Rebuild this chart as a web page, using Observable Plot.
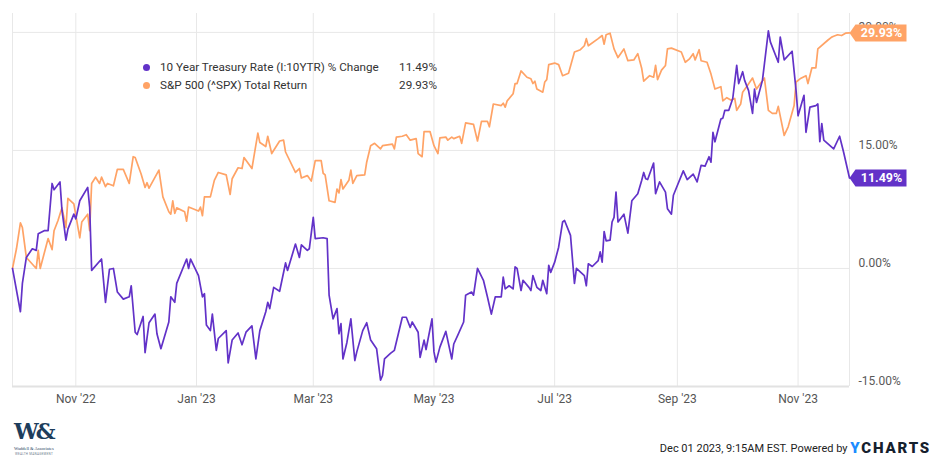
<!DOCTYPE html>
<html>
<head>
<meta charset="utf-8">
<script src="https://cdn.jsdelivr.net/npm/d3@7"></script>
<script src="https://cdn.jsdelivr.net/npm/@observablehq/plot@0.6"></script>
<style>
  html, body { margin: 0; padding: 0; background: #fff; }
  body { width: 936px; height: 460px; overflow: hidden; font-family: Roboto, "Noto Sans", sans-serif; }
  #wrap { position: relative; width: 936px; height: 412px; }
  #legend { position: absolute; left: 143px; top: 58px; font-size: 11.7px; color: #333; }
  #legend .row { position: relative; height: 18px; line-height: 18px; width: 294px; }
  #legend .dot { position: absolute; left: 0; top: 5.5px; width: 7px; height: 7px; border-radius: 50%; }
  #legend .name { position: absolute; left: 17px; }
  #legend .val { position: absolute; right: 0; }
  #footer { position: relative; width: 936px; height: 48px; }
  #logo { position: absolute; left: 14px; top: 8px; width: 44px; height: 40px; color: #1d3d5c; }
  #logo .w { position: absolute; left: 0; top: -2px; font-family: "DejaVu Serif", "Liberation Serif", serif; font-size: 22px; font-weight: bold; letter-spacing: -3px; white-space: nowrap; }
  #logo .l1 { position: absolute; left: 0; top: 26px; font-size: 4.5px; white-space: nowrap; font-family: "Liberation Serif", serif; }
  #logo .l2 { position: absolute; left: 1px; top: 32px; font-size: 3px; white-space: nowrap; color: #6b7c8c; letter-spacing: 0.3px; }
  #credit { position: absolute; right: 5px; top: 27px; font-size: 11px; color: #222; white-space: nowrap; }
  #credit .yc { font-weight: 900; font-size: 15px; letter-spacing: 1.8px; color: #15202d; vertical-align: -1px; }
  #credit .y { color: #1b8cff; }
</style>
</head>
<body>
<div id="wrap">
  <div id="chart"></div>
  <div id="legend"></div>
</div>
<div id="footer">
  <div id="logo"><span class="w">W&amp;</span><span class="l1">Waddell &amp; Associates</span><span class="l2">WEALTH MANAGEMENT</span></div>
  <div id="credit">Dec 01 2023, 9:15AM EST. Powered by <span class="yc"><span class="y">Y</span>CHARTS</span></div>
</div>
<script>
// Day offsets counted from 2022-09-30 (chart start)
const treasuryDays = [0,4,5,7,10,12,13,16,18,20,21,24,25,27,28,31,32,34,38,39,40,45,47,49,51,53,56,59,60,62,63,66,67,69,72,73,75,79,80,82,83,88,89,90,94,96,97,98,100,101,103,104,108,109,111,114,116,118,121,123,125,128,129,130,132,135,138,139,143,145,146,149,150,152,153,157,159,160,162,164,165,166,167,169,171,173,174,177,179,181,184,186,187,188,191,193,195,197,199,201,202,205,206,208,209,212,213,214,216,219,222,223,225,228,229,232,233,235,238,240,242,244,247,248,249,251,253,254,255,257,258,261,262,263,265,267,268,270,271,272,274,276,278,279,282,284,285,289,290,291,293,296,297,298,299,300,302,303,304,305,306,309,311,313,316,318,319,320,321,324,325,327,330,331,333,334,339,341,344,346,348,350,352,353,354,355,358,359,360,362,364,366,367,369,370,372,374,375,376,379,382,383,387,388,390,394,396,397,400,401,403,406,407,408,409,410,415,418,420,423];
const treasuryChange = [0.0,-5.5,-1.9,1.4,2.5,2.3,4.4,4.8,4.8,10.8,10.0,11.0,7.4,3.6,5.0,6.9,6.3,8.6,10.3,7.8,-0.25,1.2,-4.3,-0.1,0.0,-3.0,-3.9,-3.6,-2.2,-8.1,-8.4,-6.1,-10.7,-6.9,-5.8,-8.3,-10.2,-6.8,-3.6,-4.3,-1.9,1.2,0.0,1.2,-0.9,-3.6,-3.2,-7.2,-7.9,-5.8,-10.4,-8.9,-7.9,-12.0,-9.1,-8.2,-9.7,-8.1,-7.3,-11.5,-7.9,-5.5,-4.3,-5.1,-2.4,-2.9,0.7,-0.25,3.1,1.4,3.0,2.3,2.5,6.5,3.8,3.9,3.8,-3.4,-6.4,-5.1,-8.3,-7.0,-11.5,-9.4,-6.4,-11.7,-10.6,-7.9,-6.9,-9.1,-10.2,-14.2,-13.6,-11.5,-10.8,-10.4,-8.3,-6.2,-6.2,-7.5,-6.8,-8.1,-11.3,-9.1,-10.3,-6.4,-10.6,-11.9,-10.0,-8.0,-11.5,-9.6,-8.5,-6.8,-3.4,-3.0,-3.4,0.0,-1.5,-3.6,-5.8,-3.6,-3.6,-1.1,-2.6,-2.2,-2.6,0.2,0.0,-2.8,-1.5,-2.4,-2.8,-0.9,-2.4,-2.8,-1.5,-3.2,0.4,-0.5,0.8,2.7,5.9,6.1,4.2,-1.9,0.0,-0.9,-2.2,0.6,0.25,1.0,2.1,0.8,4.7,3.5,3.6,5.9,6.5,9.7,5.9,6.9,4.5,8.6,9.5,11.2,12.2,11.4,11.3,13.4,9.5,11.0,9.7,7.6,6.9,9.3,12.4,11.3,12.0,11.0,13.1,13.0,14.2,13.5,17.3,16.1,19.0,19.1,20.1,20.1,21.6,25.8,23.5,25.0,23.9,22.6,19.7,22.8,21.1,23.9,30.2,28.8,26.2,29.4,26.5,27.6,22.6,19.4,22.0,17.3,20.5,20.7,20.9,16.1,18.4,16.3,15.2,16.8,14.8,11.49];

const spxDays = [0,2,4,5,7,12,13,14,18,20,21,23,25,27,28,31,34,35,38,39,40,42,44,45,47,48,51,53,56,59,61,62,65,67,68,69,74,76,79,80,81,82,83,87,88,89,94,95,96,97,100,102,104,108,110,111,114,116,117,121,124,125,128,129,131,135,137,138,143,145,146,149,151,153,156,157,158,160,163,164,165,166,167,170,171,172,174,178,179,181,183,186,187,192,193,194,197,199,201,204,205,207,208,211,213,215,216,219,220,222,223,226,227,229,233,235,237,240,241,243,247,248,249,250,253,254,255,257,260,262,263,264,265,268,269,270,271,274,276,278,281,284,287,289,290,291,296,298,299,300,302,304,306,309,311,314,316,318,319,322,324,325,326,328,330,331,333,338,340,342,344,345,347,348,351,353,355,358,359,361,363,365,366,368,369,371,374,376,380,382,384,386,387,390,392,395,396,398,401,402,404,406,407,412,414,415,417,419,421,423];
const spxReturn = [0.0,2.5,5.8,5.2,1.4,0.0,2.3,0.0,3.8,2.4,4.8,6.1,7.7,5.2,8.9,8.2,3.9,5.9,6.9,4.8,10.8,11.6,10.8,11.6,10.4,10.8,10.5,12.6,12.6,10.8,14.2,14.1,12.0,10.3,10.9,10.2,12.5,9.1,7.2,6.9,8.6,7.0,7.7,7.2,6.0,7.8,7.3,7.8,6.7,9.1,9.1,11.2,12.2,11.9,9.4,11.4,12.8,12.7,14.1,12.7,17.2,16.0,15.5,16.8,14.6,16.2,16.3,14.8,12.2,12.7,11.5,11.8,11.1,13.7,13.7,12.1,11.9,8.6,8.4,10.1,9.6,11.3,10.1,11.2,12.5,10.8,11.8,11.9,13.5,15.6,15.9,15.2,15.6,15.8,15.2,16.7,16.8,17.0,16.3,16.5,14.6,14.2,17.4,17.4,15.6,14.6,16.6,16.7,16.3,16.7,16.5,16.8,15.9,18.5,18.3,16.2,18.7,18.7,18.0,20.9,20.7,21.0,20.5,21.3,22.2,23.5,23.5,25.1,24.3,24.1,23.5,23.8,22.8,22.4,23.7,24.0,25.9,26.1,25.9,24.5,24.8,27.5,27.8,28.3,29.2,28.3,29.2,29.6,28.5,29.7,29.9,27.9,26.8,27.9,26.4,26.5,27.3,25.4,23.8,24.5,24.3,25.8,24.0,25.2,25.8,27.9,28.0,27.5,26.2,26.6,27.3,26.5,27.8,26.4,26.2,24.7,22.8,23.1,21.3,21.7,21.4,21.6,20.1,20.9,22.4,23.1,24.2,22.8,24.2,20.1,19.7,19.7,20.6,16.9,18.0,20.7,23.7,24.1,24.5,23.5,25.5,25.5,27.9,29.0,29.4,29.5,29.7,29.6,29.9,29.93];

const seriesNames = ["10 Year Treasury Rate (I:10YTR) % Change", "S&P 500 (^SPX) Total Return"];
const seriesColors = ["#6232c8", "#ffa366"];
const lastValues = [11.49, 29.93];
const yTicks = [-15, 0, 15, 30];
const xTickDates = ["2022-11-01", "2023-01-01", "2023-03-01", "2023-05-01", "2023-07-01", "2023-09-01", "2023-11-01"];

const startUTC = Date.UTC(2022, 8, 30);
const toDate = d => new Date(startUTC + d * 86400000);
const treasury = treasuryDays.map((d, i) => ({date: toDate(d), value: treasuryChange[i], series: seriesNames[0]}));
const spx = spxDays.map((d, i) => ({date: toDate(d), value: spxReturn[i], series: seriesNames[1]}));
const lastPoints = [
  {date: treasury[treasury.length - 1].date, value: lastValues[0], color: seriesColors[0], label: lastValues[0].toFixed(2) + "%"},
  {date: spx[spx.length - 1].date, value: lastValues[1], color: seriesColors[1], label: lastValues[1].toFixed(2) + "%"}
];

const tagSymbol = {
  draw(ctx) {
    ctx.moveTo(0, 0);
    ctx.lineTo(6, -8.5);
    ctx.lineTo(57, -8.5);
    ctx.lineTo(57, 8.5);
    ctx.lineTo(6, 8.5);
    ctx.closePath();
  }
};

const xDomain = [toDate(0), treasury[treasury.length - 1].date];
const ticks = xTickDates.map(s => new Date(s + "T00:00:00Z"));

const chart = Plot.plot({
  width: 936,
  height: 412,
  marginLeft: 12,
  marginRight: 87,
  marginTop: 13,
  marginBottom: 26,
  style: {fontFamily: "Roboto, 'Noto Sans', sans-serif", fontSize: "12px", color: "#5a5a5a", background: "#fff"},
  x: {type: "utc", domain: xDomain, ticks, tickFormat: d3.utcFormat("%b '%y"), label: null},
  y: {domain: [-15, 32.4], label: null},
  marks: [
    Plot.gridX(ticks, {stroke: "#e8e8e8", strokeOpacity: 1}),
    Plot.gridY(yTicks, {stroke: "#e8e8e8", strokeOpacity: 1}),
    Plot.ruleX(xDomain, {stroke: "#e8e8e8"}),
    Plot.ruleY([-15], {stroke: "#e2e2e2", strokeWidth: 2}),
    Plot.axisX(ticks, {tickSize: 0, tickPadding: 8, tickFormat: d3.utcFormat("%b '%y"), fill: "#555", fontSize: 12}),
    Plot.axisY(yTicks, {anchor: "right", tickSize: 0, tickPadding: 9, dy: -5, tickFormat: d => d.toFixed(2) + "%", fill: "#5a5a5a", fontSize: 12}),
    Plot.line(spx, {x: "date", y: "value", stroke: seriesColors[1], strokeWidth: 1.7, curve: "linear"}),
    Plot.line(treasury, {x: "date", y: "value", stroke: seriesColors[0], strokeWidth: 1.7, curve: "linear"}),
    Plot.dot(lastPoints, {x: "date", y: "value", symbol: tagSymbol, fill: "color", stroke: null, r: 5}),
    Plot.text(lastPoints, {x: "date", y: "value", text: "label", dx: 32, fill: "white", fontWeight: "bold", fontSize: 12.5, textAnchor: "middle"})
  ]
});
document.getElementById("chart").appendChild(chart);

const legend = document.getElementById("legend");
seriesNames.forEach((name, i) => {
  const row = document.createElement("div");
  row.className = "row";
  const dot = document.createElement("span");
  dot.className = "dot";
  dot.style.background = seriesColors[i];
  const n = document.createElement("span");
  n.className = "name";
  n.textContent = name;
  const v = document.createElement("span");
  v.className = "val";
  v.textContent = lastValues[i].toFixed(2) + "%";
  row.append(dot, n, v);
  legend.appendChild(row);
});
</script>
</body>
</html>
